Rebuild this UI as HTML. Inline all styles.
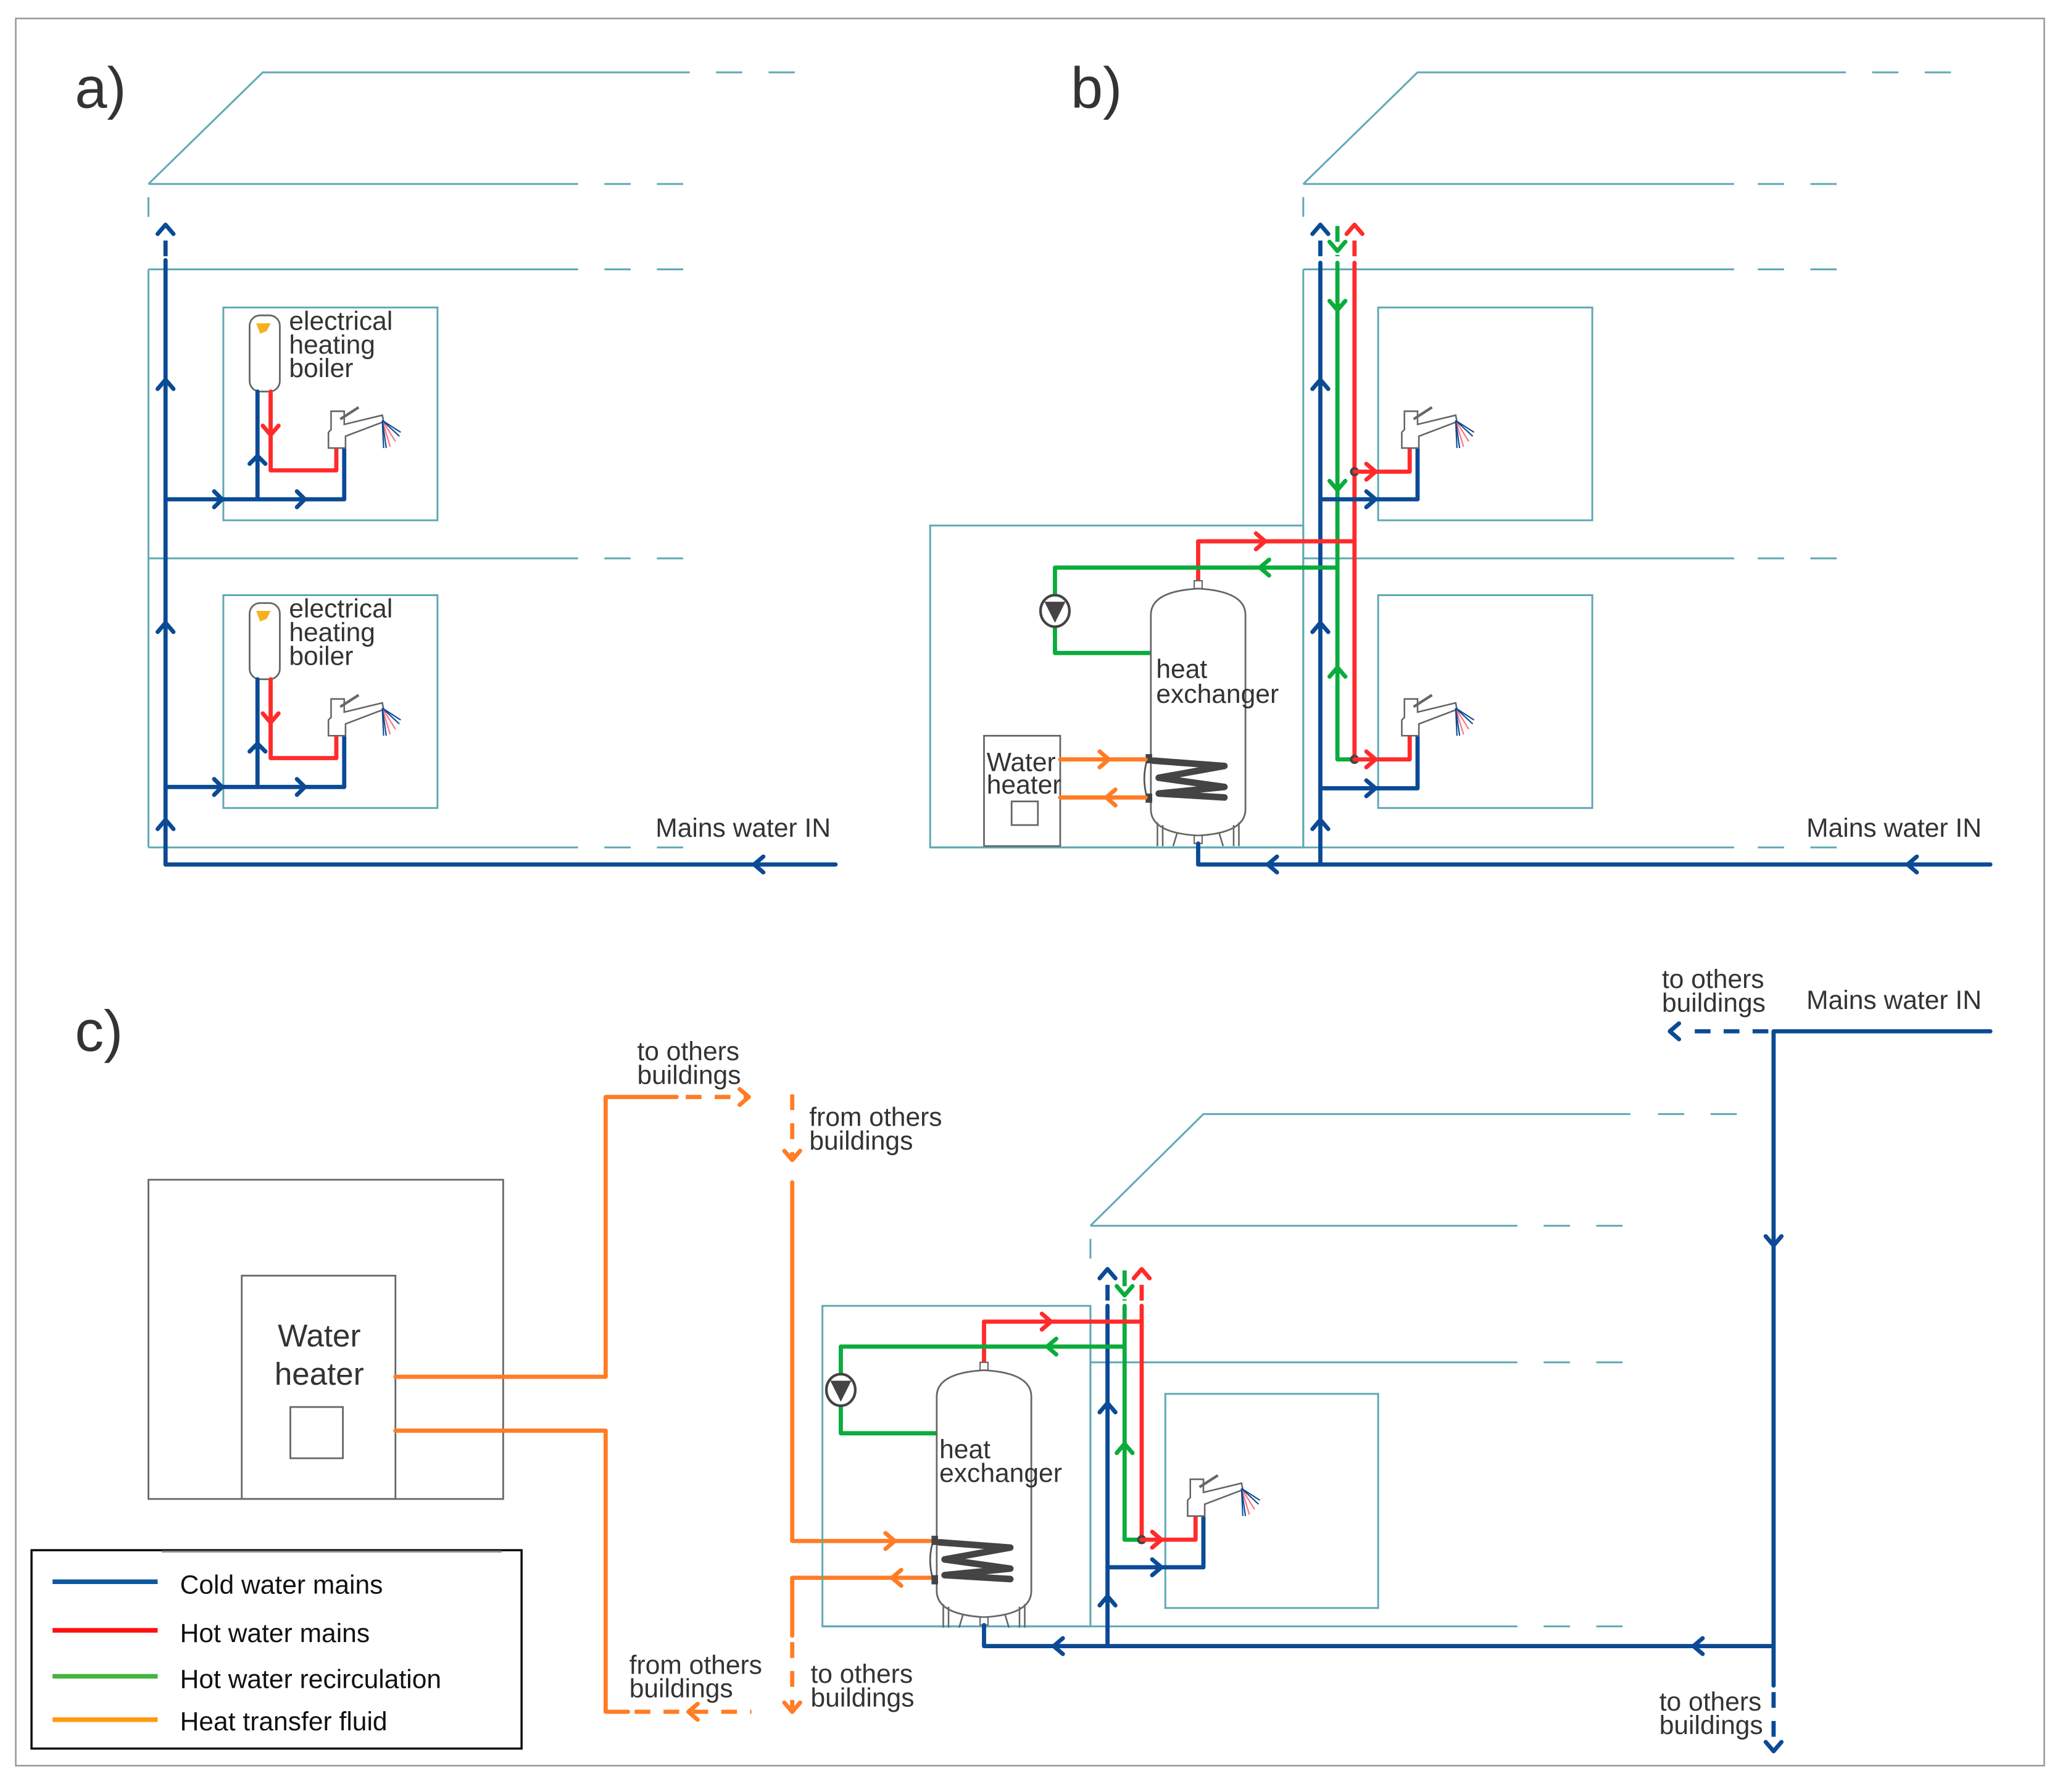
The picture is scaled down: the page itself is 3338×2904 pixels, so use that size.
<!DOCTYPE html>
<html><head><meta charset="utf-8"><style>
html,body{margin:0;padding:0;background:#fff}
svg{display:block}
text{font-family:"Liberation Sans",Arial,sans-serif;fill:#333}
.t{stroke:#5fa9b4;stroke-width:1.4;fill:none}
.g{stroke:#666;stroke-width:1.3;fill:none}
.b{stroke:#0b4a95;stroke-width:3.2;fill:none;stroke-linecap:round;stroke-linejoin:round}
.r{stroke:#ff2b2b;stroke-width:3.2;fill:none;stroke-linecap:round;stroke-linejoin:round}
.gr{stroke:#0aac3c;stroke-width:3.2;fill:none;stroke-linecap:round;stroke-linejoin:round}
.o{stroke:#ff7c25;stroke-width:3.2;fill:none;stroke-linecap:round;stroke-linejoin:round}
.d{stroke-dasharray:12 10;stroke-linecap:butt}
.lbl{font-size:20px}
</style></head><body>
<svg width="3338" height="2904" viewBox="0 0 1568 1364" xmlns="http://www.w3.org/2000/svg">
<defs>
<g id="faucet">
<path d="M-9 0 L-9 -12 L-7 -14 L-7 -28 L3 -28 L3 -18 L32 -25 L33 -20 L4 -9 L4 0 Z" fill="#fff" stroke="#666" stroke-width="1.2"/>
<line x1="0" y1="-22" x2="14" y2="-31" stroke="#666" stroke-width="2"/>
<g stroke-width="1"><line x1="32" y1="-21" x2="33" y2="0" stroke="#0b4a95"/><line x1="32" y1="-21" x2="38" y2="-1" stroke="#ff6e7a"/><line x1="32" y1="-21" x2="42" y2="-5" stroke="#ff6e7a"/><line x1="32" y1="-21" x2="45" y2="-9" stroke="#0b4a95"/><line x1="32" y1="-21" x2="46" y2="-12" stroke="#0b4a95"/><line x1="32" y1="-21" x2="35" y2="0" stroke="#0b4a95"/></g>
</g>
<g id="tank">
<rect x="-3" y="-6" width="6" height="6" fill="#fff" stroke="#666"/>
<path d="M-36 20 Q-36 2 0 0 Q36 2 36 20 L36 168 Q36 186 0 188 Q-36 186 -36 168 Z" fill="#fff" stroke="#666" stroke-width="1.3"/>
<path d="M-31 178 L-31 196 M-27 180 L-27 196 M27 180 L27 196 M31 178 L31 196 M-16 186 L-19 196 M16 186 L19 196" stroke="#666" stroke-width="1.2"/>
<rect x="-3" y="188" width="6" height="6" fill="#fff" stroke="#666"/>
<path d="M-38 128 Q-44 144 -38 162" stroke="#555" stroke-width="1.3" fill="none"/>
<path d="M-34 131 L20 135 L-30 144 L20 151 L-30 156 L20 159" stroke="#444" stroke-width="5" fill="none" stroke-linejoin="round" stroke-linecap="round"/>
<rect x="-40" y="126" width="5" height="7" fill="#444"/><rect x="-40" y="156" width="5" height="7" fill="#444"/>
</g>
<g id="pump"><ellipse cx="0" cy="0" rx="11" ry="12" fill="#fff" stroke="#444" stroke-width="2"/><path d="M-8 -7 L8 -7 L0 9 Z" fill="#444"/></g>
</defs>

<rect x="12" y="14" width="1544" height="1330" fill="none" stroke="#999" stroke-width="1.2"/>

<!-- ===== PANEL A ===== -->
<text x="57" y="82" font-size="44">a)</text>
<path class="t" d="M113 140 L200 55 L525 55 M545 55 H565 M585 55 H605 M113 140 H440 M460 140 H480 M500 140 H520 M113 150 V165 M113 205 V645 M113 205 H440 M460 205 H480 M500 205 H520 M113 425 H440 M460 425 H480 M500 425 H520 M113 645 H440 M460 645 H480 M500 645 H520"/>
<rect class="t" x="170" y="234" width="163" height="162"/>
<rect class="t" x="170" y="453" width="163" height="162"/>
<path class="b" d="M126 658 V198"/><path class="b d" d="M126 195 V172"/>
<path class="b" d="M120 178 L126 171 L132 178 M120 296 L126 289 L132 296 M120 481 L126 474 L132 481 M120 631 L126 624 L132 631"/>
<path class="b" d="M126 658 H636 M581 652 L574 658 L581 664"/>
<text class="lbl" x="499" y="637">Mains water IN</text>
<!-- floor units a -->
<g id="unitA">
<rect x="190" y="240" width="23" height="58" rx="8" fill="#fff" stroke="#666" stroke-width="1.3"/>
<path d="M195 246 L206 246 L203 252 L198 254 Z" fill="#f8b020"/>
<path class="b" d="M126 380 H262 V342 M196 380 V298 M163 374 L169 380 L163 386 M226 374 L232 380 L226 386 M190 353 L196 347 L202 353"/>
<path class="r" d="M206 298 V358 H256 V342 M200 324 L206 331 L212 324"/>
<use href="#faucet" x="259" y="341"/>
</g>
<text class="lbl" x="220" y="251">electrical</text><text class="lbl" x="220" y="269">heating</text><text class="lbl" x="220" y="287">boiler</text>
<use href="#unitA" y="219"/>
<text class="lbl" x="220" y="470">electrical</text><text class="lbl" x="220" y="488">heating</text><text class="lbl" x="220" y="506">boiler</text>

<!-- ===== PANEL B ===== -->
<text x="815" y="82" font-size="44">b)</text>
<path class="t" d="M992 140 L1079 55 L1405 55 M1425 55 H1445 M1465 55 H1485 M992 140 H1320 M1338 140 H1358 M1378 140 H1398 M992 150 V165 M992 205 V645 M992 205 H1320 M1338 205 H1358 M1378 205 H1398 M992 425 H1320 M1338 425 H1358 M1378 425 H1398 M708 645 H1320 M1338 645 H1358 M1378 645 H1398"/>
<rect class="t" x="708" y="400" width="284" height="245"/>
<rect class="t" x="1049" y="234" width="163" height="162"/>
<rect class="t" x="1049" y="453" width="163" height="162"/>
<!-- risers -->
<path class="b d" d="M1005 195 V172"/><path class="b" d="M1005 200 V658 M999 178 L1005 171 L1011 178 M999 296 L1005 289 L1011 296 M999 481 L1005 474 L1011 481 M999 631 L1005 624 L1011 631"/>
<path class="gr d" d="M1018 172 V195"/><path class="gr" d="M1018 200 V578 H1031 M1012 184 L1018 191 L1024 184 M1012 229 L1018 236 L1024 229 M1012 366 L1018 373 L1024 366 M1012 515 L1018 508 L1024 515"/>
<path class="r d" d="M1031 195 V172"/><path class="r" d="M1031 200 V578 M1025 178 L1031 171 L1037 178"/>
<circle cx="1031" cy="359" r="3.5" fill="#444"/><circle cx="1031" cy="578" r="3.5" fill="#444"/>
<!-- floor connections -->
<path class="r" d="M1031 359 H1073 V342 M1040 353 L1047 359 L1040 365"/>
<path class="b" d="M1005 380 H1079 V342 M1040 374 L1047 380 L1040 386"/>
<use href="#faucet" x="1076" y="341"/>
<path class="r" d="M1031 578 H1073 V561 M1040 572 L1047 578 L1040 584"/>
<path class="b" d="M1005 600 H1079 V561 M1040 594 L1047 600 L1040 606"/>
<use href="#faucet" x="1076" y="560"/>
<!-- plant b -->
<path class="r" d="M912 445 V412 H1031 M956 406 L963 412 L956 418"/>
<path class="gr" d="M1018 432 H803 V497 H876 M966 426 L959 432 L966 438"/>
<use href="#tank" x="912" y="448"/>
<use href="#pump" x="803" y="465"/>
<text class="lbl" x="880" y="516">heat</text><text class="lbl" x="880" y="535">exchanger</text>
<rect x="749" y="560" width="58" height="84" fill="#fff" stroke="#666" stroke-width="1.3"/>
<rect x="770" y="610" width="20" height="18" fill="none" stroke="#666" stroke-width="1.3"/>
<text class="lbl" x="751" y="587">Water</text><text class="lbl" x="751" y="604">heater</text>
<path class="o" d="M807 578 H872 M837 572 L844 578 L837 584 M807 607 H872 M849 601 L842 607 L849 613"/>
<path class="b" d="M912 642 V658 H1515 M972 652 L965 658 L972 664 M1459 652 L1452 658 L1459 664"/>
<text class="lbl" x="1375" y="637">Mains water IN</text>

<!-- ===== PANEL C ===== -->
<text x="57" y="800" font-size="44">c)</text>
<rect x="113" y="898" width="270" height="243" fill="none" stroke="#666" stroke-width="1.3"/>
<rect x="184" y="971" width="117" height="170" fill="none" stroke="#666" stroke-width="1.3"/>
<rect x="221" y="1071" width="40" height="39" fill="none" stroke="#666" stroke-width="1.3"/>
<text x="243" y="1025" font-size="24" text-anchor="middle">Water</text>
<text x="243" y="1054" font-size="24" text-anchor="middle">heater</text>
<path class="o" d="M301 1048 H461 V835 H515"/><path class="o d" d="M522 835 H568"/><path class="o" d="M563 829 L570 835 L563 841"/>
<path class="o" d="M301 1089 H461 V1303 H478"/><path class="o d" d="M483 1303 H572"/><path class="o" d="M531 1297 L524 1303 L531 1309"/>
<text class="lbl" x="485" y="807">to others</text><text class="lbl" x="485" y="825">buildings</text>
<path class="o d" d="M603 833 V880"/><path class="o" d="M597 876 L603 883 L609 876"/>
<text class="lbl" x="616" y="857">from others</text><text class="lbl" x="616" y="875">buildings</text>
<path class="o" d="M603 900 V1173 H708 M674 1167 L681 1173 L674 1179"/>
<path class="o" d="M708 1201 H603 V1245"/><path class="o d" d="M603 1250 V1300"/><path class="o" d="M686 1195 L679 1201 L686 1207 M597 1296 L603 1303 L609 1296"/>
<text class="lbl" x="479" y="1274">from others</text><text class="lbl" x="479" y="1292">buildings</text>
<text class="lbl" x="617" y="1281">to others</text><text class="lbl" x="617" y="1299">buildings</text>
<!-- house c -->
<path class="t" d="M830 933 L916 848 L1241 848 M1262 848 H1282 M1302 848 H1322 M830 933 H1155 M1175 933 H1195 M1215 933 H1235 M830 943 V958 M830 994 V1238 M830 1037 H1155 M1175 1037 H1195 M1215 1037 H1235 M626 1238 H1155 M1175 1238 H1195 M1215 1238 H1235"/>
<rect class="t" x="626" y="994" width="204" height="244"/>
<rect class="t" x="887" y="1061" width="162" height="163"/>
<path class="b d" d="M843 990 V967"/><path class="b" d="M843 994 V1253 M837 973 L843 966 L849 973 M837 1075 L843 1068 L849 1075 M837 1222 L843 1215 L849 1222"/>
<path class="gr d" d="M856 967 V990"/><path class="gr" d="M856 994 V1172 H869 M850 979 L856 986 L862 979 M850 1106 L856 1099 L862 1106"/>
<path class="r d" d="M869 990 V967"/><path class="r" d="M869 994 V1172 M863 973 L869 966 L875 973"/>
<circle cx="869" cy="1172" r="3.5" fill="#444"/>
<path class="r" d="M869 1172 H910 V1155 M877 1166 L884 1172 L877 1178"/>
<path class="b" d="M843 1193 H916 V1155 M877 1187 L884 1193 L877 1199"/>
<use href="#faucet" x="913" y="1154"/>
<path class="r" d="M749 1040 V1006 H869 M793 1000 L800 1006 L793 1012"/>
<path class="gr" d="M856 1025 H640 V1091 H713 M804 1019 L797 1025 L804 1031"/>
<use href="#tank" x="749" y="1043"/>
<use href="#pump" x="640" y="1058"/>
<text class="lbl" x="715" y="1110">heat</text><text class="lbl" x="715" y="1128">exchanger</text>
<path class="b" d="M749 1237 V1253 H1350 M809 1247 L802 1253 L809 1259 M1296 1247 L1289 1253 L1296 1259"/>
<path class="b" d="M1350 785 V1283 M1344 941 L1350 948 L1356 941 M1350 785 H1515"/><path class="b d" d="M1350 1288 V1330 M1346 785 H1285"/>
<path class="b" d="M1344 1326 L1350 1333 L1356 1326 M1278 779 L1271 785 L1278 791"/>
<text class="lbl" x="1265" y="752">to others</text><text class="lbl" x="1265" y="770">buildings</text>
<text class="lbl" x="1375" y="768">Mains water IN</text>
<text class="lbl" x="1263" y="1302">to others</text><text class="lbl" x="1263" y="1320">buildings</text>

<!-- legend -->
<rect x="24" y="1180" width="373" height="151" fill="#fff" stroke="#000" stroke-width="1.6"/>
<line x1="123" y1="1181" x2="382" y2="1181" stroke="#888" stroke-width="1.5"/>
<g stroke-width="3.5"><line x1="40" y1="1204" x2="120" y2="1204" stroke="#0b58a0"/><line x1="40" y1="1241" x2="120" y2="1241" stroke="#ff1010"/><line x1="40" y1="1276" x2="120" y2="1276" stroke="#46b340"/><line x1="40" y1="1309" x2="120" y2="1309" stroke="#ff9a10"/></g>
<g font-size="20" style="font-family:'DejaVu Sans Condensed','DejaVu Sans',sans-serif"><text x="137" y="1213" style="fill:#111">Cold water mains</text><text x="137" y="1250" style="fill:#111">Hot water mains</text><text x="137" y="1285" style="fill:#111">Hot water recirculation</text><text x="137" y="1317" style="fill:#111">Heat transfer fluid</text></g>
</svg>
</body></html>
